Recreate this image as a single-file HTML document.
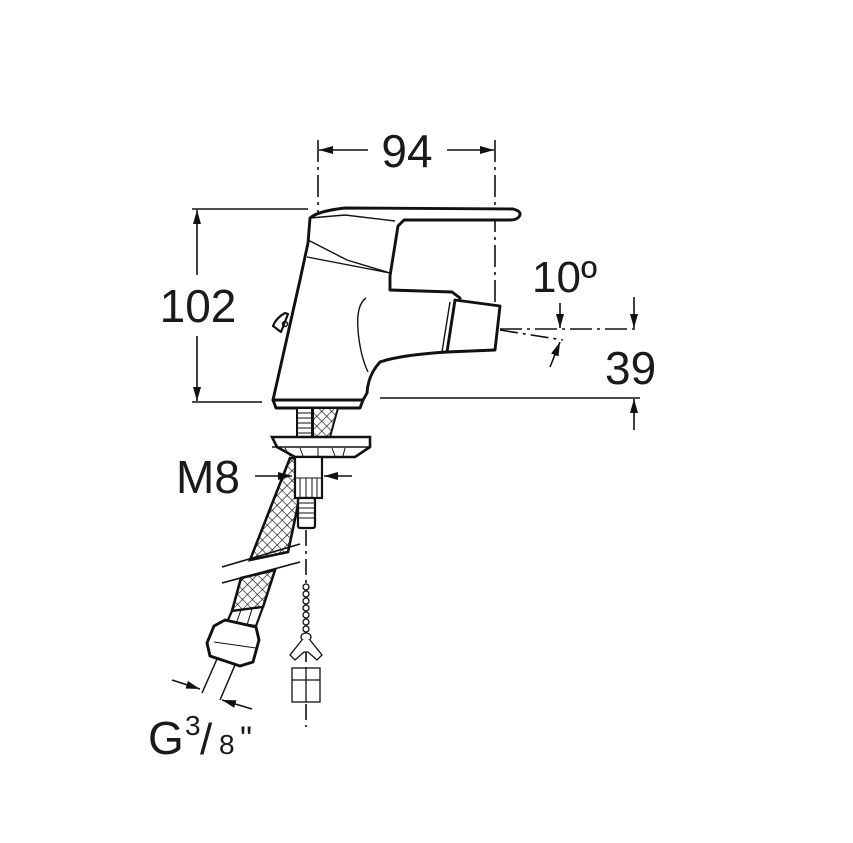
<!DOCTYPE html>
<html><head><meta charset="utf-8"><style>
html,body{margin:0;padding:0;background:#fff;}
svg{display:block}
text{font-family:"Liberation Sans",sans-serif;fill:#1a1a1a}
</style></head><body>
<svg width="853" height="843" viewBox="0 0 853 843" xmlns="http://www.w3.org/2000/svg">
<defs>
<pattern id="hx" width="7" height="7" patternUnits="userSpaceOnUse" patternTransform="rotate(45)">
<rect width="7" height="7" fill="#fff"/>
<path d="M0 0H7M0 0V7" stroke="#111" stroke-width="1.3"/>
</pattern>
<marker id="ar" markerWidth="14" markerHeight="8" refX="14" refY="4" orient="auto" markerUnits="userSpaceOnUse">
<path d="M0 0L14 4L0 8Z" fill="#111"/>
</marker>
</defs>
<g stroke="#111" fill="none" stroke-width="1.6">
<line x1="318" y1="140" x2="318" y2="400" stroke-dasharray="22,5,3,5"/>
<line x1="495" y1="140" x2="495" y2="330" stroke-dasharray="22,5,3,5"/>
<line x1="368" y1="150" x2="319" y2="150" marker-end="url(#ar)"/>
<line x1="447" y1="150" x2="494" y2="150" marker-end="url(#ar)"/>
<line x1="192" y1="209" x2="308" y2="209"/>
<line x1="192" y1="402" x2="262" y2="402"/>
<line x1="197" y1="275" x2="197" y2="210" marker-end="url(#ar)"/>
<line x1="197" y1="336" x2="197" y2="401" marker-end="url(#ar)"/>
<line x1="380" y1="398" x2="640" y2="398"/>
<line x1="500" y1="329" x2="640" y2="329" stroke-dasharray="22,5,3,5"/>
<line x1="500" y1="330" x2="563" y2="340" stroke-dasharray="18,5,3,5"/>
<line x1="560" y1="303" x2="560" y2="328" marker-end="url(#ar)"/>
<line x1="634" y1="297" x2="634" y2="328" marker-end="url(#ar)"/>
<line x1="634" y1="430" x2="634" y2="399" marker-end="url(#ar)"/>
<line x1="550" y1="367" x2="560" y2="342" marker-end="url(#ar)"/>
</g>
<g stroke="#111" stroke-width="2.9" fill="#fff" stroke-linejoin="round">
<path d="M273 400 L300 280 L308 243 L310 218 Q318 211 345 208 L513 209 Q521 211 520 215 Q518 220 510 220 L404 220 L398 226 L390 276 L390 290 L452 292 L460 298 L447 352 Q400 355 380 362 Q368 375 367 393 L363 400 Z"/>
<path d="M455 300 L500 306 L495 350 L447 352 Z"/>
<path d="M273 400 L363 400 L360 408 L276 408 Z"/>
<path d="M285 313 Q276 318 273 326 L281 332 L288 314 Z" stroke-width="2.2"/>
</g>
<g stroke="#111" stroke-width="1.4" fill="none">
<path d="M308 240 L347 260 L390 273"/>
<path d="M307 257 L390 273"/>
<path d="M310 218 L345 215 L395 221"/>
<path d="M450 302 L442 352"/>
<path d="M366 298 Q356 305 358 330 Q360 355 368 372"/>
<circle cx="285" cy="324" r="2.5"/>
</g>
<rect x="297" y="408" width="15" height="29" fill="#fff" stroke="#111" stroke-width="2"/>
<g stroke="#111" stroke-width="1"><line x1="298" y1="413" x2="311" y2="413"/><line x1="298" y1="418" x2="311" y2="418"/><line x1="298" y1="423" x2="311" y2="423"/><line x1="298" y1="428" x2="311" y2="428"/><line x1="298" y1="433" x2="311" y2="433"/></g>
<path d="M313 408 L338 408 L330 437 L313 437 Z" fill="url(#hx)" stroke="#111" stroke-width="2"/>
<path d="M290 458 L300 458 L298 505 L288 552 L250 560 Z" fill="url(#hx)" stroke="#111" stroke-width="2.6"/>
<path d="M272 437 L370 437 L370 447 L355 457 L322 457 L295 457 L277 447 Z" fill="#fff" stroke="#111" stroke-width="2.6"/>
<line x1="272" y1="447" x2="370" y2="447" stroke="#111" stroke-width="1.5"/>
<g stroke="#111" stroke-width="1"><line x1="285" y1="448" x2="290" y2="456"/><line x1="300" y1="448" x2="303" y2="456"/><line x1="318" y1="448" x2="318" y2="456"/><line x1="332" y1="448" x2="335" y2="456"/><line x1="345" y1="448" x2="343" y2="456"/></g>
<rect x="295" y="457" width="27" height="41" fill="#fff" stroke="#111" stroke-width="2.2"/>
<g stroke="#111" stroke-width="1"><line x1="300" y1="478" x2="300" y2="497"/><line x1="306" y1="478" x2="306" y2="497"/><line x1="312" y1="478" x2="312" y2="497"/><line x1="317" y1="478" x2="317" y2="497"/><line x1="296" y1="478" x2="321" y2="478"/></g>
<rect x="298" y="498" width="17" height="30" rx="2" fill="#fff" stroke="#111" stroke-width="2.2"/>
<g stroke="#111" stroke-width="1"><line x1="299" y1="503" x2="314" y2="503"/><line x1="299" y1="508" x2="314" y2="508"/><line x1="299" y1="513" x2="314" y2="513"/><line x1="299" y1="518" x2="314" y2="518"/></g>
<g stroke="#111" stroke-width="1.6">
<line x1="255" y1="476" x2="292" y2="476" marker-end="url(#ar)"/>
<line x1="352" y1="476" x2="324" y2="476" marker-end="url(#ar)"/>
</g>
<g stroke="#111" stroke-width="1.6">
<line x1="222" y1="567" x2="300" y2="544"/>
<line x1="222" y1="583" x2="300" y2="562"/>
</g>
<path d="M241 578 L275 570 L263 607 L232 611 Z" fill="url(#hx)" stroke="#111" stroke-width="2.6"/>
<path d="M232 611 L263 607 L256 626 L227 622 Z" fill="#fff" stroke="#111" stroke-width="2.2"/>
<line x1="241" y1="610" x2="236" y2="624" stroke="#111" stroke-width="1"/>
<line x1="252" y1="609" x2="247" y2="625" stroke="#111" stroke-width="1"/>
<path d="M214 626 L225 620 L256 627 L259 640 L253 662 L240 666 L210 656 L207 643 Z" fill="#fff" stroke="#111" stroke-width="2.9" stroke-linejoin="round"/>
<line x1="214" y1="642" x2="256" y2="648" stroke="#111" stroke-width="1"/>
<g stroke="#111" stroke-width="1.5">
<line x1="217" y1="659" x2="202" y2="693"/>
<line x1="235" y1="665" x2="220" y2="700"/>
<line x1="172" y1="680" x2="200" y2="689" marker-end="url(#ar)"/>
<line x1="252" y1="709" x2="222" y2="700" marker-end="url(#ar)"/>
</g>
<line x1="306" y1="530" x2="306" y2="727" stroke="#111" stroke-width="1.6" stroke-dasharray="16,5,3,5"/>
<g stroke="#111" stroke-width="1.3" fill="#fff">
<circle cx="306" cy="587" r="3"/><circle cx="306" cy="594" r="3"/><circle cx="306" cy="601" r="3"/><circle cx="306" cy="608" r="3"/><circle cx="306" cy="615" r="3"/><circle cx="306" cy="622" r="3"/><circle cx="306" cy="629" r="3"/>
<ellipse cx="306" cy="637" rx="5" ry="4"/>
<path d="M302 640 L290 655 L295 660 L304 652 L308 652 L317 660 L322 655 L310 640"/>
<rect x="292" y="668" width="28" height="34"/>
<line x1="306" y1="668" x2="306" y2="702"/>
<line x1="292" y1="680" x2="320" y2="680"/>
</g>
<text x="407" y="167" font-size="46" text-anchor="middle">94</text>
<text x="198" y="322" font-size="46" text-anchor="middle">102</text>
<text x="532" y="292" font-size="44">10º</text>
<text x="605" y="384" font-size="46">39</text>
<text x="176" y="493" font-size="46">M8</text>
<text x="148" y="754" font-size="46">G</text>
<text x="185" y="735" font-size="28">3</text>
<text x="200" y="754" font-size="44">/</text>
<text x="219" y="754" font-size="28">8</text>
<text x="240" y="750" font-size="34">"</text>
</svg>
</body></html>
